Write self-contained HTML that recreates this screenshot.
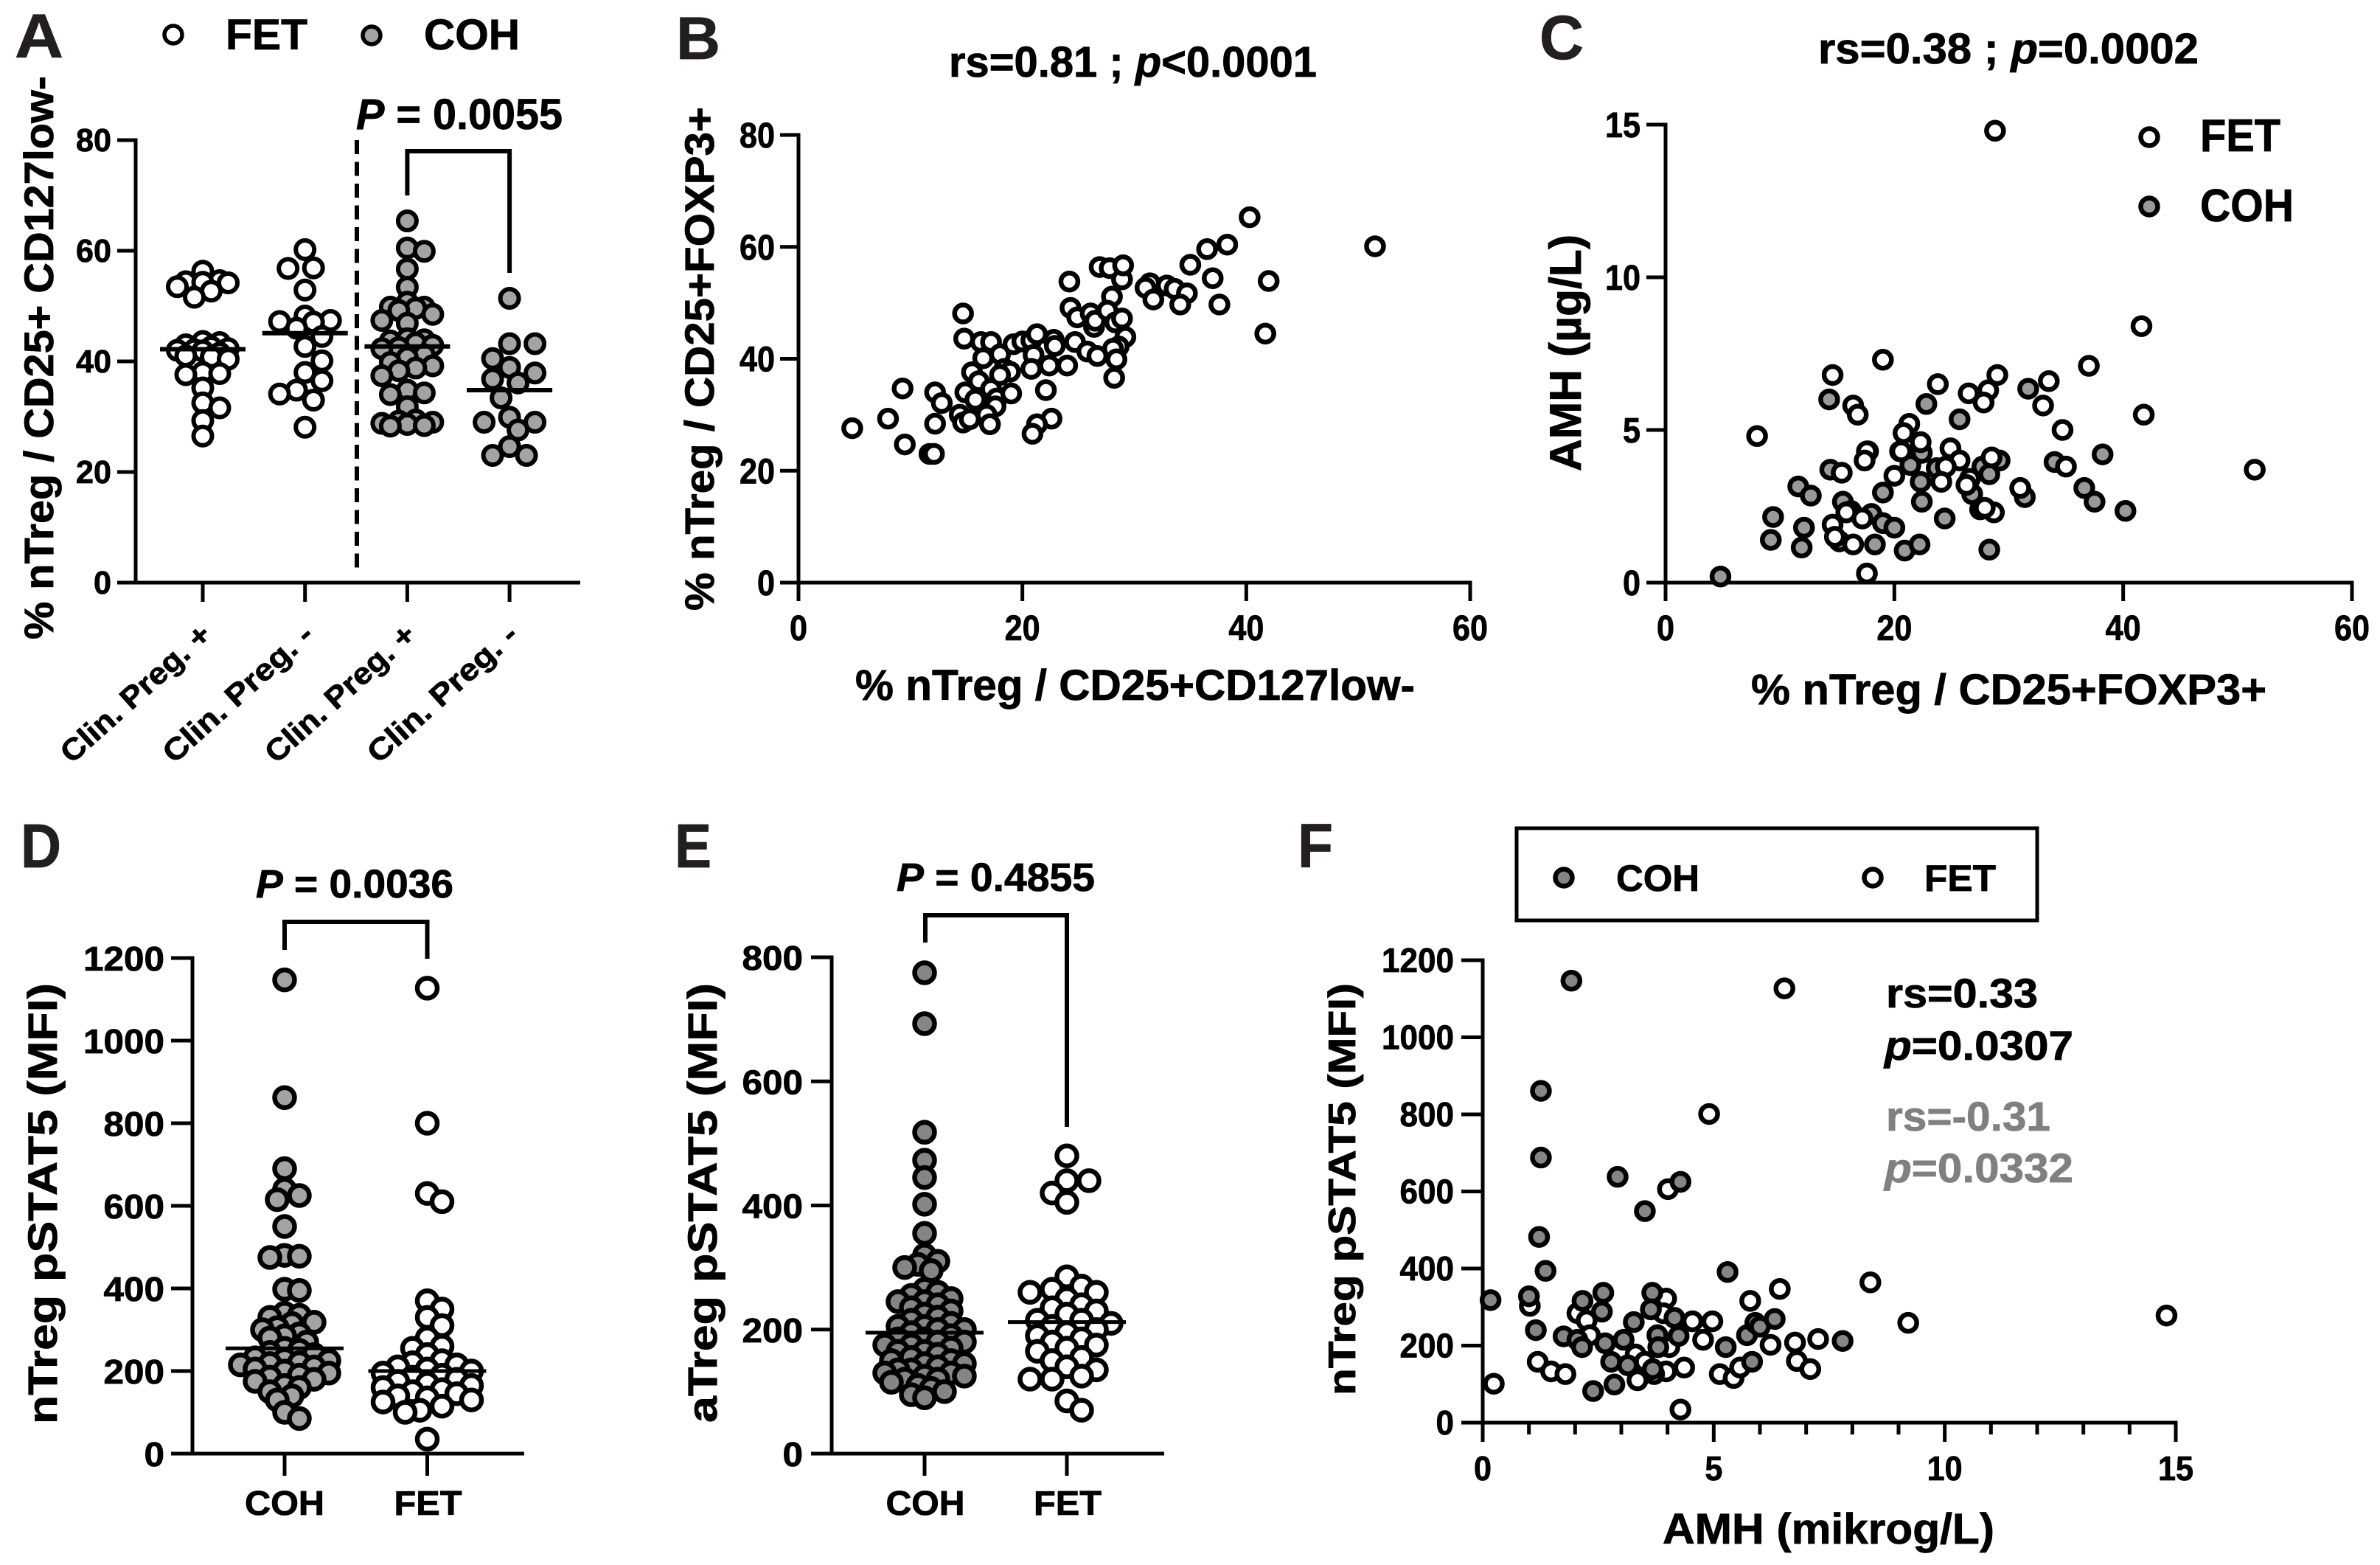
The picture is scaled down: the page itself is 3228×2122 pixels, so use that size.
<!DOCTYPE html>
<html lang="en">
<head>
<meta charset="utf-8">
<title>Treg panels</title>
<style>
html,body{margin:0;padding:0;background:#fff;}
svg{display:block;}
text{font-family:"Liberation Sans",Arial,sans-serif;font-weight:700;fill:#000;stroke:#000;stroke-width:.8px;}
.letter{fill:#231f20;stroke:#231f20;}
.muted{fill:#808080;stroke:#808080;}
</style>
</head>
<body>
<svg xmlns="http://www.w3.org/2000/svg" width="3228" height="2122" viewBox="0 0 3228 2122">
<rect x="0" y="0" width="3228" height="2122" fill="#fff"/>

<g id="panel-a">
<text class="letter" x="20" y="78" font-size="84" textLength="66" lengthAdjust="spacingAndGlyphs">A</text>
<text x="306" y="67" font-size="58" textLength="111" lengthAdjust="spacingAndGlyphs">FET</text>
<text x="575" y="67" font-size="58" textLength="130" lengthAdjust="spacingAndGlyphs">COH</text>
<text transform="translate(72,867) rotate(-90)" font-size="56" textLength="764" lengthAdjust="spacingAndGlyphs">% nTreg / CD25+ CD127low-</text>
<text x="483" y="175" font-size="58" textLength="280" lengthAdjust="spacingAndGlyphs"><tspan font-style="italic">P</tspan> = 0.0055</text>
</g>

<g id="panel-b">
<text class="letter" x="917" y="80" font-size="82" textLength="60" lengthAdjust="spacingAndGlyphs">B</text>
<text x="1287" y="104" font-size="58" textLength="499" lengthAdjust="spacingAndGlyphs">rs=0.81 ; <tspan font-style="italic">p</tspan>&lt;0.0001</text>
<text transform="translate(968,828) rotate(-90)" font-size="56" textLength="683" lengthAdjust="spacingAndGlyphs">% nTreg / CD25+FOXP3+</text>
<text x="1160" y="949" font-size="58" textLength="759" lengthAdjust="spacingAndGlyphs">% nTreg / CD25+CD127low-</text>
</g>

<g id="panel-c">
<text class="letter" x="2088" y="80" font-size="84" textLength="60" lengthAdjust="spacingAndGlyphs">C</text>
<text x="2466" y="86" font-size="58" textLength="516" lengthAdjust="spacingAndGlyphs">rs=0.38 ; <tspan font-style="italic">p</tspan>=0.0002</text>
<text transform="translate(2144,639) rotate(-90)" font-size="60" textLength="321" lengthAdjust="spacingAndGlyphs">AMH (µg/L)</text>
<text x="2375" y="955" font-size="58" textLength="699" lengthAdjust="spacingAndGlyphs">% nTreg / CD25+FOXP3+</text>
<text x="2984" y="205" font-size="62" textLength="109" lengthAdjust="spacingAndGlyphs">FET</text>
<text x="2984" y="300" font-size="62" textLength="127" lengthAdjust="spacingAndGlyphs">COH</text>
</g>

<g id="panel-d">
<text class="letter" x="28" y="1176" font-size="84" textLength="55" lengthAdjust="spacingAndGlyphs">D</text>
<text x="347" y="1217" font-size="54" textLength="268" lengthAdjust="spacingAndGlyphs"><tspan font-style="italic">P</tspan> = 0.0036</text>
<text transform="translate(77,1931) rotate(-90)" font-size="56" textLength="598" lengthAdjust="spacingAndGlyphs">nTreg pSTAT5 (MFI)</text>
</g>

<g id="panel-e">
<text class="letter" x="915" y="1176" font-size="84" textLength="50" lengthAdjust="spacingAndGlyphs">E</text>
<text x="1216" y="1208" font-size="54" textLength="269" lengthAdjust="spacingAndGlyphs"><tspan font-style="italic">P</tspan> = 0.4855</text>
<text transform="translate(972,1929) rotate(-90)" font-size="56" textLength="596" lengthAdjust="spacingAndGlyphs">aTreg pSTAT5 (MFI)</text>
</g>

<g id="panel-f">
<text class="letter" x="1760" y="1176" font-size="84" textLength="48" lengthAdjust="spacingAndGlyphs">F</text>
<rect x="2057" y="1123" width="706" height="125" fill="none" stroke="#000" stroke-width="5"/>
<text x="2192" y="1208" font-size="50" textLength="113" lengthAdjust="spacingAndGlyphs">COH</text>
<text x="2610" y="1208" font-size="50" textLength="97" lengthAdjust="spacingAndGlyphs">FET</text>
<text x="2558" y="1366" font-size="56" textLength="206" lengthAdjust="spacingAndGlyphs">rs=0.33</text>
<text x="2556" y="1437" font-size="56" textLength="256" lengthAdjust="spacingAndGlyphs"><tspan font-style="italic">p</tspan>=0.0307</text>
<text class="muted" x="2558" y="1533" font-size="56" textLength="223" lengthAdjust="spacingAndGlyphs">rs=-0.31</text>
<text class="muted" x="2556" y="1603" font-size="56" textLength="256" lengthAdjust="spacingAndGlyphs"><tspan font-style="italic">p</tspan>=0.0332</text>
<text transform="translate(1838,1892) rotate(-90)" font-size="52" textLength="559" lengthAdjust="spacingAndGlyphs">nTreg pSTAT5 (MFI)</text>
<text x="2255" y="2093" font-size="58" textLength="450" lengthAdjust="spacingAndGlyphs">AMH (mikrog/L)</text>
</g>
</svg>

<script>
// ---------- Panel A data ----------
const aCategories = ['Clin. Preg. +', 'Clin. Preg. -', 'Clin. Preg. +', 'Clin. Preg. -'];
const aYTicks = [0, 20, 40, 60, 80];
const aFetPregPos = [56.3,54.6,54.4,54.3,54.2,53.5,52.7,51.6,43.6,43.4,43,42.6,42.3,42.1,42,41.9,41.5,41,40.8,40.4,38,37.8,37.6,35.2,32.5,31.6,29.3,26.5];
const aFetPregNeg = [60.2,56.9,56.8,52.9,48.2,47.4,47.2,47.1,46,44.5,42.7,40.1,38,36.5,34.8,34.1,33,28.1];
const aCohPregPos = [65.4,60.5,59.9,56.7,53.4,50.7,49.8,49.8,49.6,49.2,48.5,47.4,46.9,43.9,44.1,43.7,43.3,42.9,42.5,42.3,41.2,40.7,39.8,39.2,38.8,38.3,37.4,34.8,34.3,34,31.8,29.4,29.2,29,28.8,28.6,28.4,28.3];
const aCohPregNeg = [51.4,43.2,43.2,40.5,38.9,37.9,36.8,36.1,33.4,29.9,29,29,27.6,24.6,23,23];
const aMeans = [42.2, 45.1, 42.7, 34.8];

// ---------- Panel B data ----------
const bXTicks = [0, 20, 40, 60];
const bYTicks = [0, 20, 40, 60, 80];
const bX = [4.8,8,9.3,9.5,11.7,12.1,12.2,12.8,12.2,14.4,14.7,15.3,14.9,14.7,14.8,16.3,17.2,16.5,18,15.5,16.1,15.8,17.2,17.7,17.6,16.8,17.1,18.4,18.9,19,18,19.2,20,20.8,21.3,21,20.8,22.1,22.4,22.6,21.3,20.9,22.8,22.9,24,24.7,24.2,24.3,24.9,26.1,26.4,26.5,25.8,26.7,26.9,27.8,28.9,29,28,27.6,28.3,28.9,29.2,28.6,28.1,28.4,28.2,31.4,31,31.7,32.9,33.6,34.7,34.1,35,36.5,37,38.3,37.6,40.3,42,41.7,51.5];
const bY = [27.6,29.3,34.7,24.7,23,23,34,32.1,28.4,30,28.6,29.2,34,48.1,43.6,43,43,40.1,40.8,37.6,36,32.7,34.6,32.9,31.5,30,28.3,38.2,37.7,33.8,37.1,42.6,43.1,43.3,44.4,40.7,38.2,34.4,38.8,29.3,28.3,26.6,43.4,42.3,38.8,43,53.8,49.1,47.4,48.1,45.7,46.8,41.3,40.5,56.4,56.2,54.2,56.7,51.1,48.6,46.5,47.2,43.9,42.2,41.8,39.9,36.6,53.5,52.7,50.6,53.1,52.5,51.7,49.7,56.8,59.6,54.4,60.4,49.7,65.3,53.9,44.5,60.1];

// ---------- Panel C data ----------
const cXTicks = [0, 20, 40, 60];
const cYTicks = [0, 5, 10, 15];
const cFetX = [28.8,41.6,37,19,14.6,23.8,33.5,26.5,28.2,29,27.8,33,16.4,16.8,21.3,41.8,34.7,20.8,8,22.3,24.9,20.6,17.6,17.4,28.5,25.7,24.5,35,51.5,15.4,20,26.6,24.1,26.3,31,15.8,17.2,14.6,14.8,28.7,27.9,16.4,17.6];
const cFetY = [14.8,8.4,7.1,7.3,6.8,6.5,6.6,6.2,6.3,6.8,5.9,5.8,5.8,5.5,5.2,5.5,5,4.9,4.8,4.6,4.4,4.3,4.3,4,4.1,4,3.8,3.8,3.7,3.6,3.5,3.4,3.3,3.2,3.1,2.3,2.1,1.9,1.5,2.3,2.45,1.25,0.3];
const cCohX = [4.8,9.4,9.2,11.6,12.7,12.1,11.9,14.3,14.4,15.5,15.2,16.2,17.7,18,18.3,19,19,20,20.9,22.2,21.4,20.5,22.4,22.3,22.4,22.8,24.4,25.7,23.7,26.8,27.5,27.7,28.3,29.2,28.3,31.4,31.7,34,36.6,37.5,38.2,40.2];
const cCohY = [0.2,2.15,1.4,3.15,2.85,1.8,1.15,6,3.7,2.65,1.35,2.35,4.3,2.25,1.25,2.95,1.95,1.8,1.05,1.25,3.85,4.3,4.25,3.3,2.65,5.85,2.1,5.35,3.75,2.9,2.4,3.8,3.55,4,1.08,2.8,6.35,3.95,3.1,2.65,4.2,2.35];

// ---------- Panel D data ----------
const dCategories = ['COH', 'FET'];
const dYTicks = [0, 200, 400, 600, 800, 1000, 1200];
const dCoh = [1147,862,690,640,625,615,550,480,478,475,398,395,340,335,330,318,315,305,300,290,285,280,270,255,250,245,240,232,228,225,220,218,215,210,205,200,195,190,185,180,175,165,160,150,140,130,100,85];
const dFet = [1127,800,630,610,370,350,330,310,280,260,255,240,225,220,215,210,205,200,195,190,185,180,175,170,165,160,155,150,145,140,135,130,125,115,105,100,35];
const dMeans = [255, 200];

// ---------- Panel E data ----------
const eCategories = ['COH', 'FET'];
const eYTicks = [0, 200, 400, 600, 800];
const eCoh = [775,693,518,473,445,402,355,320,310,305,300,295,265,260,255,250,245,245,240,235,230,225,220,215,210,205,205,200,200,195,190,185,185,180,180,175,175,170,165,165,160,155,150,150,145,145,140,135,135,130,130,125,125,120,120,115,110,105,100,95,90];
const eFet = [480,440,440,420,405,285,270,265,260,260,250,240,235,230,225,215,215,210,205,200,195,190,185,180,175,170,165,155,150,140,135,125,120,120,85,70];
const eMeans = [195, 212];

// ---------- Panel F data ----------
const fXTicks = [0, 5, 10, 15];
const fXMinorTicks = [1, 2, 3, 4, 6, 7, 8, 9, 11, 12, 13, 14];
const fYTicks = [0, 200, 400, 600, 800, 1000, 1200];
const fCohX = [1.92,1.26,1.26,2.92,4.28,3.51,1.22,1.36,5.3,0.17,1,1.15,1.75,2.16,2.61,2.58,3.67,3.64,3.27,4.15,4.24,3.78,3.8,3.05,2.65,2.05,2.15,2.78,3.14,2.85,2.39,3.68,5.26,5.72,5.9,6,6.32,5.83,7.79];
const fCohY = [1147,861,688,638,625,549,482,394,391,318,328,240,224,316,337,288,337,294,261,272,225,227,196,215,206,215,196,158,149,99,82,139,196,227,259,249,269,158,212];
const fFetX = [6.53,4.9,4.01,1.02,1.19,0.24,1.48,1.79,2.05,2.25,2.32,3.97,3.91,4.54,4.97,4.77,4.04,3.31,3.51,3.97,3.35,3.71,4.36,4.28,5.13,5.43,5.57,5.79,6.43,6.23,6.76,7.26,6.8,7.09,8.39,9.21,14.8];
const fFetY = [1127,801,606,303,158,101,133,126,284,265,227,322,284,263,263,215,196,177,158,133,110,126,143,34,126,116,143,316,347,202,208,217,160,139,364,259,278];

const SVG_NS = 'http://www.w3.org/2000/svg';

function linearScale(d0, d1, r0, r1) {
  return function (v) { return r0 + (v - d0) / (d1 - d0) * (r1 - r0); };
}

function bandScale(first, step) {
  return function (i) { return first + i * step; };
}

function make(tag, parent, attrs) {
  const n = document.createElementNS(SVG_NS, tag);
  for (const k in attrs) n.setAttribute(k, attrs[k]);
  parent.appendChild(n);
  return n;
}

function drawLine(parent, x1, y1, x2, y2, width, name) {
  const el = make('line', parent, {x1: x1, y1: y1, x2: x2, y2: y2, stroke: '#000', 'stroke-width': width});
  
  
  return el;
}

function drawLabel(parent, x, y, str, size, anchor, width, name) {
  const el = make('text', parent, {x: x, y: y, 'font-size': size, 'text-anchor': anchor, textLength: width, lengthAdjust: 'spacingAndGlyphs'});
  el.textContent = str;
  
  
  return el;
}

function drawMarker(parent, cx, cy, fill, r, sw, name) {
  const el = make('circle', parent, {cx: cx, cy: cy, r: r, fill: fill, stroke: '#000', 'stroke-width': sw});
  
  
  return el;
}

function drawYAxis(parent, yScale, ticks, o) {
  const axis = make('g', parent, {});
  
  
  const top = yScale(ticks[ticks.length - 1]);
  drawLine(axis, o.x, top - 2.5, o.x, yScale(ticks[0]) + 2.5, 5, 'y-axis-line');
  ticks.forEach(function (t) {
    drawLine(axis, o.tickLeft, yScale(t), o.x, yScale(t), 5, 'y-axis-tick');
    drawLabel(axis, o.labelRight, yScale(t) + o.labelDy, String(t), o.fs, 'end', String(t).length * o.digitW, 'y-tick-label');
  });
}

function drawXValueAxis(parent, xScale, ticks, minor, o) {
  const axis = make('g', parent, {});
  
  
  drawLine(axis, o.left, o.y, xScale(ticks[ticks.length - 1]) + 2.5, o.y, 5, 'x-axis-line');
  ticks.forEach(function (t) {
    drawLine(axis, xScale(t), o.y, xScale(t), o.tickBottom, 5, 'x-axis-tick');
    drawLabel(axis, xScale(t), o.labelY, String(t), o.fs, 'middle', String(t).length * o.digitW, 'x-tick-label');
  });
  minor.forEach(function (t) {
    drawLine(axis, xScale(t), o.y, xScale(t), o.minorBottom, 5, 'x-axis-minor-tick');
  });
}

function drawCategoryAxis(parent, catScale, count, o) {
  const axis = make('g', parent, {});
  
  
  drawLine(axis, o.left, o.y, o.right, o.y, 5, 'x-axis-line');
  for (let i = 0; i < count; i++) {
    drawLine(axis, catScale(i), o.y, catScale(i), o.tickBottom, 5, 'x-axis-tick');
  }
}

// Deterministic beeswarm: each point takes the nearest slot to the centre that keeps clear of placed points.
function swarmLayout(values, yScale, minDist, step, maxHalf) {
  const sorted = values.slice().sort(function (a, b) { return b - a; });
  const placed = [];
  sorted.forEach(function (v) {
    const py = yScale(v);
    const candidates = [0];
    for (let k = step; k <= maxHalf; k += step) { candidates.push(k); candidates.push(-k); }
    let best = 0, bestGap = -1;
    for (let c = 0; c < candidates.length; c++) {
      let gap = 1e9;
      placed.forEach(function (p) {
        gap = Math.min(gap, Math.hypot(p.dx - candidates[c], p.py - py));
      });
      if (gap >= minDist) { best = candidates[c]; bestGap = gap; break; }
      if (gap > bestGap) { best = candidates[c]; bestGap = gap; }
    }
    placed.push({dx: best, py: py});
  });
  return placed;
}

function drawSwarm(parent, values, centre, yScale, fill, layout, name) {
  const g = make('g', parent, {});
  
  
  swarmLayout(values, yScale, layout.minDist, layout.step, layout.maxHalf).forEach(function (p) {
    drawMarker(g, centre + p.dx, p.py, fill, layout.r, layout.sw, 'data-point');
  });
}

function drawScatter(parent, xs, ys, xScale, yScale, fill, r, sw, name) {
  const g = make('g', parent, {});
  
  
  xs.forEach(function (x, i) {
    drawMarker(g, xScale(x), yScale(ys[i]), fill, r, sw, 'data-point');
  });
}

function drawBracket(parent, x1, x2, top, bottom1, bottom2, name) {
  const el = make('path', parent, {d: 'M' + x1 + ' ' + bottom1 + 'V' + top + 'H' + x2 + 'V' + bottom2, fill: 'none', stroke: '#000', 'stroke-width': 6});
  
  
}

const GREY = '#a3a3a3';
const DARK_GREY = '#858585';

// ---------- Panel A ----------
(function () {
  const g = document.getElementById('panel-a');
  const y = linearScale(0, 80, 790, 190);
  const cat = bandScale(275, 138.7);
  drawYAxis(g, y, aYTicks, {x: 184, tickLeft: 159, labelRight: 151, labelDy: 15, fs: 44, digitW: 24});
  drawCategoryAxis(g, cat, aCategories.length, {left: 159, right: 787, y: 790, tickBottom: 816});
  aCategories.forEach(function (c, i) {
    const t = make('text', g, {'font-size': 41, 'text-anchor': 'end', textLength: 258, lengthAdjust: 'spacingAndGlyphs', transform: 'translate(' + (cat(i) + 14) + ',864) rotate(-42)'});
    t.textContent = c;
    
    
  });
  const dash = make('line', g, {x1: 484, y1: 190, x2: 484, y2: 777, stroke: '#000', 'stroke-width': 6, 'stroke-dasharray': '19 10.5'});
  
  
  drawBracket(g, cat(2), cat(3), 205, 265, 370, 'significance-bracket');
  const dense = {minDist: 19, step: 11.5, maxHalf: 35, r: 12.5, sw: 6};
  const sparse = {minDist: 25, step: 11.5, maxHalf: 35, r: 12.5, sw: 6};
  drawSwarm(g, aFetPregPos, cat(0), y, '#fff', dense, 'fet-clin-preg-positive');
  drawSwarm(g, aFetPregNeg, cat(1), y, '#fff', sparse, 'fet-clin-preg-negative');
  drawSwarm(g, aCohPregPos, cat(2), y, GREY, dense, 'coh-clin-preg-positive');
  drawSwarm(g, aCohPregNeg, cat(3), y, GREY, sparse, 'coh-clin-preg-negative');
  aMeans.forEach(function (m, i) {
    drawLine(g, cat(i) - 58, y(m), cat(i) + 58, y(m), 6, 'mean-line');
  });
  drawMarker(g, 235, 47, '#fff', 12, 5.5, 'legend-marker-fet');
  drawMarker(g, 504, 48, GREY, 12, 5.5, 'legend-marker-coh');
})();

// ---------- Panel B ----------
(function () {
  const g = document.getElementById('panel-b');
  const x = linearScale(0, 60, 1083, 1994);
  const y = linearScale(0, 80, 790, 183);
  drawYAxis(g, y, bYTicks, {x: 1083, tickLeft: 1058, labelRight: 1051, labelDy: 17, fs: 48, digitW: 24});
  drawXValueAxis(g, x, bXTicks, [], {left: 1058, y: 790, tickBottom: 815, minorBottom: 815, labelY: 868, fs: 48, digitW: 24});
  drawScatter(g, bX, bY, x, y, '#fff', 11.5, 6.5, 'nTreg-correlation-points');
})();

// ---------- Panel C ----------
(function () {
  const g = document.getElementById('panel-c');
  const x = linearScale(0, 60, 2259, 3190);
  const y = linearScale(0, 15, 790, 169);
  drawYAxis(g, y, cYTicks, {x: 2259, tickLeft: 2233, labelRight: 2225, labelDy: 17, fs: 48, digitW: 24});
  drawXValueAxis(g, x, cXTicks, [], {left: 2233, y: 790, tickBottom: 815, minorBottom: 815, labelY: 868, fs: 48, digitW: 24});
  drawScatter(g, cCohX, cCohY, x, y, '#999999', 11.5, 6.5, 'coh-points');
  drawScatter(g, cFetX, cFetY, x, y, '#fff', 11.5, 6.5, 'fet-points');
  drawMarker(g, 2915, 186, '#fff', 11.5, 6.5, 'legend-marker-fet');
  drawMarker(g, 2915, 280, '#999999', 11.5, 6.5, 'legend-marker-coh');
})();

// ---------- Panel D ----------
(function () {
  const g = document.getElementById('panel-d');
  const y = linearScale(0, 1200, 1971, 1299);
  const cat = bandScale(386, 193.5);
  drawYAxis(g, y, dYTicks, {x: 261, tickLeft: 232, labelRight: 223, labelDy: 17, fs: 46, digitW: 27.5});
  drawCategoryAxis(g, cat, dCategories.length, {left: 232, right: 711, y: 1971, tickBottom: 2001});
  dCategories.forEach(function (c, i) {
    drawLabel(g, cat(i) + (i === 0 ? 0 : 1), 2054, c, 46, 'middle', i === 0 ? 108 : 92, 'x-tick-label');
  });
  drawBracket(g, cat(0), cat(1), 1250, 1288, 1300, 'significance-bracket');
  const cohLayout = {minDist: 15, step: 10, maxHalf: 62, r: 13.5, sw: 6.5};
  const fetLayout = {minDist: 18, step: 10, maxHalf: 62, r: 13.5, sw: 6.5};
  drawSwarm(g, dCoh, cat(0), y, GREY, cohLayout, 'coh-points');
  drawSwarm(g, dFet, cat(1), y, '#fff', fetLayout, 'fet-points');
  dMeans.forEach(function (m, i) {
    drawLine(g, cat(i) - 80, y(m), cat(i) + 80, y(m), 5, 'mean-line');
  });
})();

// ---------- Panel E ----------
(function () {
  const g = document.getElementById('panel-e');
  const y = linearScale(0, 800, 1971, 1298);
  const cat = bandScale(1254, 193);
  drawYAxis(g, y, eYTicks, {x: 1128, tickLeft: 1100, labelRight: 1089, labelDy: 17, fs: 46, digitW: 27.5});
  drawCategoryAxis(g, cat, eCategories.length, {left: 1100, right: 1579, y: 1971, tickBottom: 2001});
  eCategories.forEach(function (c, i) {
    drawLabel(g, cat(i) + 1, 2054, c, 46, 'middle', i === 0 ? 107 : 92, 'x-tick-label');
  });
  drawBracket(g, cat(0) + 1, cat(1), 1241, 1278, 1528, 'significance-bracket');
  const cohLayout = {minDist: 14, step: 9, maxHalf: 62, r: 13.5, sw: 6.5};
  const fetLayout = {minDist: 21, step: 10, maxHalf: 62, r: 13.5, sw: 6.5};
  drawSwarm(g, eCoh, cat(0), y, DARK_GREY, cohLayout, 'coh-points');
  drawSwarm(g, eFet, cat(1), y, '#fff', fetLayout, 'fet-points');
  eMeans.forEach(function (m, i) {
    drawLine(g, cat(i) - 80, y(m), cat(i) + 80, y(m), 5, 'mean-line');
  });
})();

// ---------- Panel F ----------
(function () {
  const g = document.getElementById('panel-f');
  const x = linearScale(0, 15, 2011, 2951);
  const y = linearScale(0, 1200, 1929, 1302);
  drawYAxis(g, y, fYTicks, {x: 2011, tickLeft: 1982, labelRight: 1972, labelDy: 16, fs: 46, digitW: 24.5});
  drawXValueAxis(g, x, fXTicks, fXMinorTicks, {left: 1982, y: 1929, tickBottom: 1955, minorBottom: 1945, labelY: 2007, fs: 46, digitW: 24});
  drawScatter(g, fFetX, fFetY, x, y, '#fff', 11.5, 6.5, 'fet-points');
  drawScatter(g, fCohX, fCohY, x, y, DARK_GREY, 11.5, 6.5, 'coh-points');
  drawMarker(g, 2121, 1190, DARK_GREY, 11.5, 6.5, 'legend-marker-coh');
  drawMarker(g, 2540, 1190, '#fff', 11.5, 6.5, 'legend-marker-fet');
})();
</script>
</body>
</html>
